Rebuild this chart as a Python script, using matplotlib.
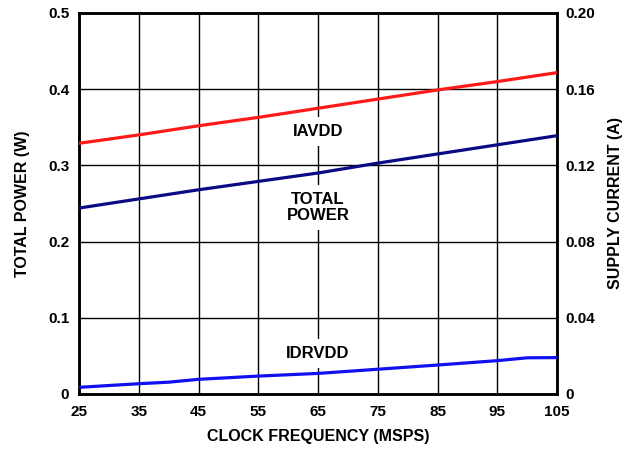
import matplotlib.pyplot as plt
import numpy as np

plt.rcParams['font.family'] = ['Liberation Sans', 'DejaVu Sans']
plt.rcParams['font.weight'] = 'bold'

freq = [25, 35, 45, 55, 65, 75, 85, 95, 105]
total_power = [0.244, 0.256, 0.268, 0.279, 0.290, 0.303, 0.315, 0.327, 0.339]  # W
iavdd = [0.1316, 0.1360, 0.1408, 0.1452, 0.1500, 0.1548, 0.1596, 0.1640, 0.1687]  # A

freq_drv = [25, 35, 40, 45, 55, 65, 75, 85, 95, 100, 105]
idrvdd = [0.0035, 0.0054, 0.0062, 0.0077, 0.0094, 0.0108, 0.0130, 0.0152, 0.0175, 0.0190, 0.0191]  # A

fig = plt.figure(figsize=(6.33, 4.51), dpi=100)
ax = fig.add_axes([0.1248, 0.1264, 0.7552, 0.8448])
ax2 = ax.twinx()

ax.set_xlim(25, 105)
ax.set_ylim(0, 0.5)
ax2.set_ylim(0, 0.20)
ax.set_xticks(np.arange(25, 106, 10))
ax.set_xticklabels([str(f) for f in range(25, 106, 10)], fontweight='bold')
ax.set_yticks([0, 0.1, 0.2, 0.3, 0.4, 0.5])
ax.set_yticklabels(['0', '0.1', '0.2', '0.3', '0.4', '0.5'], fontweight='bold')
ax2.set_yticks([0, 0.04, 0.08, 0.12, 0.16, 0.20])
ax2.set_yticklabels(['0', '0.04', '0.08', '0.12', '0.16', '0.20'], fontweight='bold')

ax.grid(True, color='black', linewidth=1.0, zorder=0)
ax.set_axisbelow(True)

# lines go on ax2 so they sit above everything on ax
ax2.plot(freq, iavdd, color='#FF1A1A', linewidth=2.3, zorder=3)
ax2.plot(freq_drv, idrvdd, color='#1010F0', linewidth=2.3, zorder=3)
ax2.plot(freq, np.array(total_power) * 0.4, color='#0A0A85', linewidth=2.3, zorder=3)

box = dict(facecolor='white', edgecolor='none', pad=5)
ax.text(65, 0.345, 'IAVDD', ha='center', va='center', fontsize=12,
        fontweight='bold', bbox=box, zorder=2)
ax.text(65, 0.245, 'TOTAL\nPOWER', ha='center', va='center', fontsize=12,
        fontweight='bold', bbox=box, zorder=2, linespacing=1.1)
ax.text(65, 0.053, 'IDRVDD', ha='center', va='center', fontsize=12,
        fontweight='bold', bbox=box, zorder=2)

for a in (ax, ax2):
    a.tick_params(length=0, labelsize=11)
    for s in a.spines.values():
        s.set_linewidth(1.8)
ax.tick_params(axis='x', pad=8)
ax.tick_params(axis='y', pad=7)
ax2.tick_params(axis='y', pad=6)

ax.set_xlabel('CLOCK FREQUENCY (MSPS)', fontsize=11.5, fontweight='bold', labelpad=7)
ax.set_ylabel('TOTAL POWER (W)', fontsize=11.5, fontweight='bold', labelpad=13)
ax2.set_ylabel('SUPPLY CURRENT (A)', fontsize=11.5, fontweight='bold', labelpad=9)

fig.savefig('out.png', dpi=100)
